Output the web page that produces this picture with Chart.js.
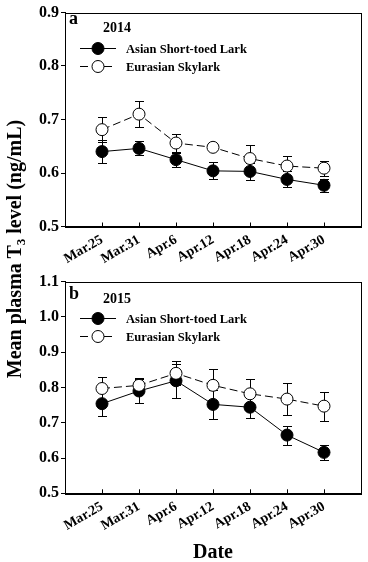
<!DOCTYPE html>
<html>
<head>
<meta charset="utf-8">
<script src="https://cdn.jsdelivr.net/npm/chart.js@4.4.1/dist/chart.umd.min.js"></script>
<style>
body { margin: 0; background: #fff; }
#wrap { position: relative; width: 368px; height: 562px; font-family: "Liberation Serif", "Times New Roman", serif; font-weight: bold; color: #000; }
.panel { position: absolute; left: 0; width: 368px; }
#ytitle { position: absolute; left: -136px; top: 237px; width: 300px; height: 24px; line-height: 24px; text-align: center; font-size: 20px; white-space: nowrap; transform: rotate(-90deg); }
#ytitle sub { font-size: 13px; vertical-align: -4px; line-height: 0; }
#xtitle { position: absolute; left: 163px; top: 540px; width: 100px; line-height: 22px; text-align: center; font-size: 20px; }
</style>
</head>
<body>
<div id="wrap">
  <div class="panel" style="top:0;height:270px"><canvas id="chartA"></canvas></div>
  <div class="panel" style="top:270px;height:292px"><canvas id="chartB"></canvas></div>
  <div id="ytitle">Mean plasma T<sub>3</sub> level (ng/mL)</div>
  <div id="xtitle">Date</div>
</div>
<script>
const dates = ['Mar.25', 'Mar.31', 'Apr.6', 'Apr.12', 'Apr.18', 'Apr.24', 'Apr.30']
const xPos = [1, 2, 3, 4, 5, 6, 7]

// 2014
const asian2014 = [0.640, 0.646, 0.625, 0.604, 0.603, 0.588, 0.577]
const asian2014Err = [0.022, 0.013, 0.013, 0.016, 0.016, 0.015, 0.012]
const sky2014 = [0.681, 0.710, 0.656, 0.648, 0.627, 0.613, 0.609]
const sky2014Err = [0.023, 0.024, 0.017, 0.005, 0.026, 0.019, 0.014]

// 2015
const asian2015 = [0.754, 0.790, 0.819, 0.752, 0.744, 0.665, 0.616]
const asian2015Err = [0.035, 0.034, 0.048, 0.042, 0.032, 0.027, 0.021]
const sky2015 = [0.797, 0.806, 0.840, 0.806, 0.782, 0.767, 0.747]
const sky2015Err = [0.033, 0.021, 0.034, 0.046, 0.043, 0.045, 0.041]

const serif = "'Liberation Serif', 'Times New Roman', serif"

const errorBars = {
    id: 'errorBars',
    beforeDatasetsDraw(chart) {
        const ctx = chart.ctx
        const yScale = chart.scales.y
        ctx.save()
        ctx.strokeStyle = '#000'
        ctx.lineWidth = 1
        chart.data.datasets.forEach((ds, i) => {
            const meta = chart.getDatasetMeta(i)
            meta.data.forEach((pt, j) => {
                const v = ds.data[j].y
                const e = ds.errors[j]
                const x = Math.round(pt.x) + 0.5
                const y1 = Math.round(yScale.getPixelForValue(v + e)) + 0.5
                const y2 = Math.round(yScale.getPixelForValue(v - e)) + 0.5
                ctx.beginPath()
                ctx.moveTo(x, y1); ctx.lineTo(x, y2)
                ctx.moveTo(x - 4.5, y1); ctx.lineTo(x + 4.5, y1)
                ctx.moveTo(x - 4.5, y2); ctx.lineTo(x + 4.5, y2)
                ctx.stroke()
            })
        })
        ctx.restore()
    }
}

const panelDecor = {
    id: 'panelDecor',
    afterDraw(chart, args, opts) {
        const ctx = chart.ctx
        const a = chart.chartArea
        const xs = chart.scales.x
        ctx.save()
        ctx.strokeStyle = '#000'
        ctx.lineWidth = 1
        // frame
        ctx.strokeRect(Math.round(a.left) + 0.5, Math.round(a.top) + 0.5,
            Math.round(a.right - a.left), Math.round(a.bottom - a.top))
        // x ticks pointing inside
        ctx.beginPath()
        xPos.forEach(v => {
            const x = Math.round(xs.getPixelForValue(v)) + 0.5
            ctx.moveTo(x, a.bottom)
            ctx.lineTo(x, a.bottom - 4)
        })
        ctx.stroke()

        ctx.fillStyle = '#000'
        ctx.textBaseline = 'alphabetic'
        ctx.font = `bold 18px ${serif}`
        ctx.fillText(opts.letter, a.left + 4, a.top + opts.letterY)
        ctx.font = `bold 14px ${serif}`
        ctx.fillText(opts.year, 103, a.top + opts.yearY)

        // legend
        const rows = [opts.row1, opts.row2]
        chart.data.datasets.forEach((ds, i) => {
            const y = Math.round(a.top + rows[i]) + 0.5
            ctx.setLineDash(ds.borderDash || [])
            ctx.beginPath()
            ctx.moveTo(80, y); ctx.lineTo(116, y)
            ctx.stroke()
            ctx.setLineDash([])
            ctx.beginPath()
            ctx.arc(98, y, 6, 0, Math.PI * 2)
            ctx.fillStyle = ds.pointBackgroundColor
            ctx.fill()
            ctx.stroke()
            ctx.fillStyle = '#000'
            ctx.font = `bold 12.5px ${serif}`
            ctx.textBaseline = 'middle'
            ctx.fillText(ds.label, 126, y + 1)
        })
        ctx.restore()
    }
}

function makeData(asian, asianErr, sky, skyErr) {
    return {
        datasets: [
            {
                label: 'Asian Short-toed Lark',
                data: xPos.map((x, i) => ({ x: x, y: asian[i] })),
                errors: asianErr,
                borderColor: '#000',
                borderWidth: 1,
                pointRadius: 6,
                pointBackgroundColor: '#000',
                pointBorderColor: '#000',
                pointBorderWidth: 1,
                order: 2
            },
            {
                label: 'Eurasian Skylark',
                data: xPos.map((x, i) => ({ x: x, y: sky[i] })),
                errors: skyErr,
                borderColor: '#000',
                borderWidth: 1,
                borderDash: [8, 4],
                pointRadius: 6,
                pointBackgroundColor: '#fff',
                pointBorderColor: '#000',
                pointBorderWidth: 1,
                order: 1
            }
        ]
    }
}

function makeOptions(yMin, yMax, padTop, xHeight, panel) {
    return {
        responsive: true,
        maintainAspectRatio: false,
        animation: false,
        layout: { padding: { top: padTop, right: 7, left: 0, bottom: 0 } },
        plugins: {
            legend: { display: false },
            tooltip: { enabled: false },
            panelDecor: panel
        },
        scales: {
            x: {
                type: 'linear',
                min: 0,
                max: 8,
                afterBuildTicks: s => { s.ticks = xPos.map(v => ({ value: v })) },
                afterFit: s => { s.height = xHeight },
                grid: { drawOnChartArea: false, drawTicks: false, color: '#000' },
                border: { display: true, color: '#000', width: 1 },
                ticks: {
                    autoSkip: false,
                    minRotation: 30,
                    maxRotation: 30,
                    padding: 5,
                    color: '#000',
                    font: { family: serif, weight: 'bold', size: 14 },
                    callback: v => dates[v - 1]
                }
            },
            y: {
                min: yMin,
                max: yMax,
                afterFit: s => { s.width = 65 },
                grid: { drawOnChartArea: false, drawTicks: true, tickLength: 4, color: '#000' },
                border: { display: true, color: '#000', width: 1 },
                ticks: {
                    stepSize: 0.1,
                    padding: 2,
                    color: '#000',
                    font: { family: serif, weight: 'bold', size: 16 },
                    callback: v => v.toFixed(1)
                }
            }
        }
    }
}

new Chart(document.getElementById('chartA'), {
    type: 'line',
    data: makeData(asian2014, asian2014Err, sky2014, sky2014Err),
    options: makeOptions(0.5, 0.9, 12.5, 43.5,
        { letter: 'a', year: '2014', letterY: 11.8, yearY: 19.8, row1: 35.2, row2: 53.2 }),
    plugins: [errorBars, panelDecor]
})

new Chart(document.getElementById('chartB'), {
    type: 'line',
    data: makeData(asian2015, asian2015Err, sky2015, sky2015Err),
    options: makeOptions(0.5, 1.1, 11, 68.7,
        { letter: 'b', year: '2015', letterY: 17.3, yearY: 21.3, row1: 36.7, row2: 54.7 }),
    plugins: [errorBars, panelDecor]
})
</script>
</body>
</html>
